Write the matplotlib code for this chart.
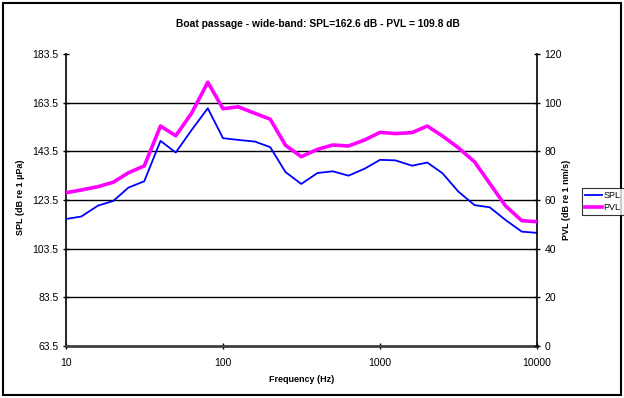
import matplotlib
matplotlib.use("Agg")
import matplotlib.pyplot as plt
from matplotlib.patches import Rectangle
from matplotlib.ticker import FixedLocator, NullLocator, FixedFormatter

plt.rcParams['font.family'] = ['Liberation Sans', 'DejaVu Sans']

freqs = [10, 12.5, 16, 20, 25, 31.5, 40, 50, 63, 80, 100, 125, 160, 200, 250, 315,
         400, 500, 630, 800, 1000, 1250, 1600, 2000, 2500, 3150, 4000, 5000, 6300, 8000, 10000]
spl = [115.7, 116.7, 121.2, 123.1, 128.6, 131.2, 147.8, 143.0, 152.2, 161.2, 148.9, 148.2,
       147.5, 145.2, 135.0, 130.1, 134.6, 135.3, 133.5, 136.4, 140.0, 139.8, 137.6, 138.9,
       134.5, 127.0, 121.4, 120.5, 115.3, 110.5, 110.0]
pvl = [63.0, 64.1, 65.5, 67.3, 71.2, 74.0, 90.4, 86.4, 95.6, 108.4, 97.5, 98.3, 95.6, 93.2,
       82.5, 77.8, 80.8, 82.6, 82.2, 84.7, 87.8, 87.3, 87.7, 90.4, 86.3, 81.5, 75.7, 66.8,
       57.6, 51.5, 51.1]
spl_ticks = [63.5, 83.5, 103.5, 123.5, 143.5, 163.5, 183.5]
pvl_ticks = [0, 20, 40, 60, 80, 100, 120]
x_ticks = [10, 100, 1000, 10000]
title = "Boat passage - wide-band: SPL=162.6 dB - PVL = 109.8 dB"

W, H = 624, 398
fig = plt.figure(figsize=(W / 100, H / 100), dpi=100)
L, R, T, B = 66, 537, 54, 346
ax = fig.add_axes([L / W, 1 - B / H, (R - L) / W, (B - T) / H])
ax2 = ax.twinx()

ax.set_xscale('log')
ax.set_xlim(10, 10000)
ax.set_ylim(63.5, 183.5)
ax2.set_ylim(0, 120)

for v in spl_ticks[1:-1]:
    ax.axhline(v, color='black', lw=1.0, zorder=1)

ax.plot(freqs, spl, color='#0000ff', lw=1.3, zorder=3, label='SPL')
ax2.plot(freqs, pvl, color='#ff00ff', lw=2.6, zorder=3, label='PVL')

ax.xaxis.set_major_locator(FixedLocator(x_ticks))
ax.xaxis.set_major_formatter(FixedFormatter([str(x) for x in x_ticks]))
ax.xaxis.set_minor_locator(NullLocator())
ax.set_yticks(spl_ticks)
ax.set_yticklabels([f"{v:.1f}" for v in spl_ticks])
ax2.set_yticks(pvl_ticks)
ax2.set_yticklabels([str(v) for v in pvl_ticks])

for a in (ax, ax2):
    a.tick_params(axis='both', direction='inout', length=5, width=1, labelsize=7.5,
                  colors='black', pad=3)
ax.tick_params(axis='x', pad=6)

ax.spines['top'].set_visible(False)
ax2.spines['top'].set_visible(False)
ax.spines['left'].set_linewidth(1.2)
ax2.spines['right'].set_linewidth(1.2)
ax.spines['bottom'].set_linewidth(2.0)
ax.spines['bottom'].set_color('#404040')
ax2.spines['bottom'].set_visible(False)
ax.spines['right'].set_visible(False)
ax2.spines['left'].set_visible(False)

ax.set_xlabel('Frequency (Hz)', fontsize=6.5, fontweight='bold', labelpad=5)
ax.set_ylabel('SPL (dB re 1 µPa)', fontsize=6.5, fontweight='bold')
ax2.set_ylabel('PVL (dB re 1 nm/s)', fontsize=6.5, fontweight='bold')
ax.yaxis.set_label_coords((25 - L) / (R - L), 0.51)
ax2.yaxis.set_label_coords((562 - L) / (R - L), 0.5)

fig.text(318 / W, 1 - 24 / H, title, ha='center', va='center',
         fontsize=7.35, fontweight='bold')

h1, l1 = ax.get_legend_handles_labels()
h2, l2 = ax2.get_legend_handles_labels()
leg = fig.legend(h1 + h2, l1 + l2, loc='upper left', bbox_to_anchor=(582 / W, 1 - 188 / H),
                 fontsize=6.5, frameon=True, fancybox=False, edgecolor='black',
                 handlelength=1.9, handletextpad=0.15, borderpad=0.35, labelspacing=0.35,
                 borderaxespad=0)
leg.get_frame().set_linewidth(0.8)

fig.add_artist(Rectangle((3 / W, 3 / H), (W - 6) / W, (H - 6) / H, transform=fig.transFigure,
                         fill=False, edgecolor='black', lw=1.5))

fig.savefig('out.png', dpi=100)
